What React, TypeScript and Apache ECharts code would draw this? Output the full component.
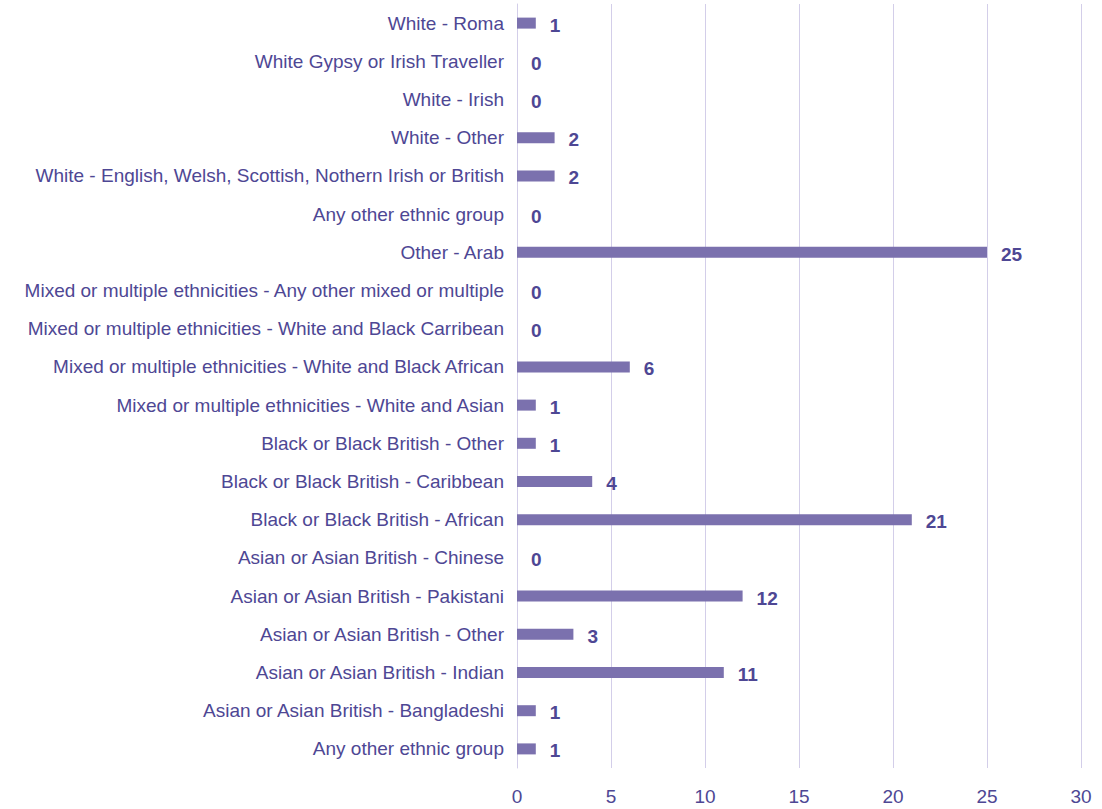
import React, { useEffect, useRef } from "react";
import * as echarts from "echarts";

const categories = [
  "Any other ethnic group",
  "Asian or Asian British - Bangladeshi",
  "Asian or Asian British - Indian",
  "Asian or Asian British - Other",
  "Asian or Asian British - Pakistani",
  "Asian or Asian British - Chinese",
  "Black or Black British - African",
  "Black or Black British - Caribbean",
  "Black or Black British - Other",
  "Mixed or multiple ethnicities - White and Asian",
  "Mixed or multiple ethnicities - White and Black African",
  "Mixed or multiple ethnicities - White and Black Carribean",
  "Mixed or multiple ethnicities - Any other mixed or multiple",
  "Other - Arab",
  "Any other ethnic group",
  "White - English, Welsh, Scottish, Nothern Irish or British",
  "White - Other",
  "White - Irish",
  "White Gypsy or Irish Traveller",
  "White - Roma",
];

const values = [1, 1, 11, 3, 12, 0, 21, 4, 1, 1, 6, 0, 0, 25, 0, 2, 2, 0, 0, 1];

const xTicks = { min: 0, max: 30, interval: 5 };

export default function App() {
  const ref = useRef<HTMLDivElement>(null);
  useEffect(() => {
    if (!ref.current) return;
    const chart = echarts.init(ref.current, null, { renderer: "svg" });
    chart.setOption({
      animation: false,
      backgroundColor: "#ffffff",
      grid: { left: 517, right: 21, top: 4, bottom: 41, containLabel: false },
      xAxis: {
        type: "value",
        min: xTicks.min,
        max: xTicks.max,
        interval: xTicks.interval,
        axisLine: { show: false },
        axisTick: { show: false },
        splitLine: { show: true, lineStyle: { color: "#d3cee9", width: 1 } },
        axisLabel: {
          color: "#4e4794",
          fontSize: 19,
          fontFamily: "Liberation Sans",
          margin: 19,
        },
      },
      yAxis: {
        type: "category",
        data: categories.map((c, i) => ({ value: c + "#" + i })),
        axisLine: { show: true, lineStyle: { color: "#d3cee9", width: 1 } },
        axisTick: { show: false },
        axisLabel: {
          color: "#4e4794",
          fontSize: 19,
          fontFamily: "Liberation Sans",
          margin: 13,
          formatter: (v: string) => v.replace(/#\d+$/, ""),
        },
      },
      series: [
        {
          type: "bar",
          data: values,
          barWidth: 11,
          itemStyle: { color: "#7b71ae" },
          label: {
            show: true,
            position: "right",
            distance: 14,
            offset: [0, 2],
            color: "#4e4794",
            fontSize: 19,
            fontWeight: "bold",
            fontFamily: "Liberation Sans",
          },
        },
      ],
    });
    return () => chart.dispose();
  }, []);
  return (
    <div
      ref={ref}
      style={{ width: 1102, height: 809, position: "absolute", left: 0, top: 0 }}
    />
  );
}
